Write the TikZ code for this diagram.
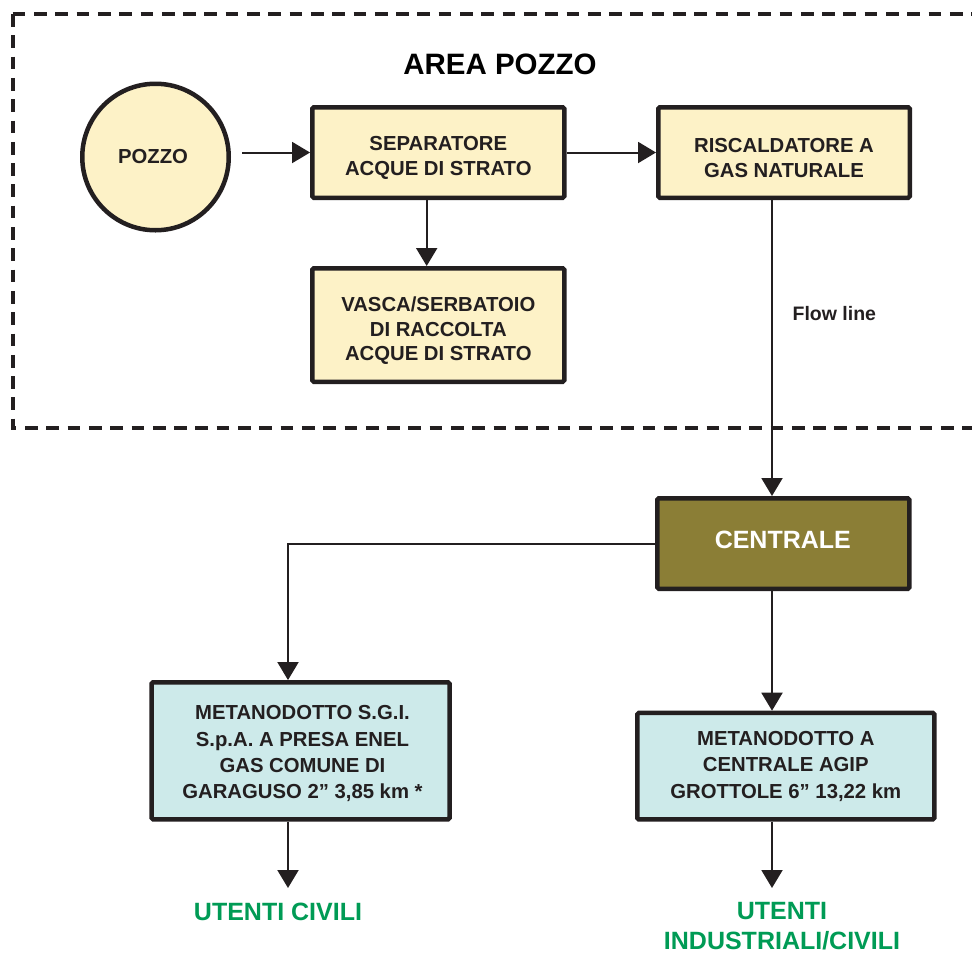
\documentclass[tikz,border=0pt]{standalone}
\usepackage{fontspec}
\setmainfont{Liberation Sans}
\usetikzlibrary{arrows.meta}
\definecolor{cream}{RGB}{253,242,199}
\definecolor{paleblue}{RGB}{205,234,234}
\definecolor{olive}{RGB}{139,126,54}
\definecolor{dark}{RGB}{35,31,32}
\definecolor{leafgreen}{RGB}{0,155,85}
\begin{document}
\begin{tikzpicture}[x=1pt,y=-1pt,
  ink/.style={draw=dark,line width=4.5pt,rounded corners=1.5pt,inner sep=0pt},
  ybox/.style={ink,fill=cream,rectangle},
  bbox/.style={ink,fill=paleblue,rectangle},
  obox/.style={ink,fill=olive,rectangle},
  boxtext/.style={inner sep=0pt,align=center,text=dark,font=\bfseries\fontsize{20.3}{24.5}\selectfont},
  bluetext/.style={boxtext,font=\bfseries\fontsize{20.3}{26.3}\selectfont},
  greentext/.style={inner sep=0pt,align=center,text=leafgreen,font=\bfseries\fontsize{25}{29.5}\selectfont},
  conn/.style={draw=dark,line width=2pt},
  arr/.style={conn,-{Triangle[length=18pt,width=21pt]}},
  frame/.style={draw=dark,line width=4pt,dash pattern=on 12.7pt off 8.6pt}
]
\useasboundingbox (0,0) rectangle (972,954);

% dashed area frame
\draw[frame] (12.7,14) -- (990,14);
\draw[frame] (12.7,14) -- (12.7,427.7) -- (990,427.7);

\node[inner sep=0pt,text=black,font=\bfseries\fontsize{29.5}{34}\selectfont] (title) at (500,64.2) {AREA POZZO};

% nodes
\node[ink,circle,fill=cream,minimum size=146.5pt] (pozzo) at (155.5,157) {};
\node[boxtext] (pozzoT) at (153,157) {POZZO};

\node[ybox,minimum width=252pt,minimum height=90.5pt] (sep) at (438.3,152.5) {};
\node[boxtext] (sepT) at (438.3,157.8) {SEPARATORE\\ACQUE DI STRATO};

\node[ybox,minimum width=251.5pt,minimum height=90.5pt] (risc) at (784,152.5) {};
\node[boxtext] (riscT) at (784,157.8) {RISCALDATORE A\\GAS NATURALE};

\node[ybox,minimum width=252pt,minimum height=113.5pt] (vasca) at (438.3,325) {};
\node[boxtext] (vascaT) at (438.3,330.8) {VASCA/SERBATOIO\\DI RACCOLTA\\ACQUE DI STRATO};

\node[obox,minimum width=252pt,minimum height=90.5pt] (centrale) at (783.3,543.5) {};
\node[inner sep=0pt,text=white,font=\bfseries\fontsize{25}{28}\selectfont] (centraleT) at (782.8,540) {CENTRALE};

\node[bbox,minimum width=298pt,minimum height=137pt] (sgi) at (300.5,750.8) {};
\node[bluetext] (sgiT) at (302.5,753.8) {METANODOTTO S.G.I.\\S.p.A. A PRESA ENEL\\GAS COMUNE DI\\GARAGUSO 2” 3,85 km *};

\node[bbox,minimum width=297pt,minimum height=106.5pt] (agip) at (785.8,766.2) {};
\node[bluetext] (agipT) at (785.8,766.3) {METANODOTTO A\\CENTRALE AGIP\\GROTTOLE 6” 13,22 km};

\node[inner sep=0pt,anchor=base,text=dark,font=\bfseries\fontsize{19.5}{23}\selectfont] (flow) at (834.3,320) {Flow line};

\node[greentext,anchor=base] (uc) at (278,920.5) {UTENTI CIVILI};
\node[greentext,anchor=base] (uic) at (782,949) {UTENTI\\INDUSTRIALI/CIVILI};

% helper coordinates
\coordinate (pstart) at (242,152.5);
\coordinate (fx) at (772,0);
\coordinate (lx) at (288,0);
\coordinate (vx) at (426.7,0);
\coordinate (ucend) at (288,888);
\coordinate (uicend) at (772,888);

% connectors
\draw[arr] (pstart) -- (sep.west);
\draw[arr] (sep.east) -- (risc.west);
\draw[arr] (sep.south -| vx) -- (vasca.north -| vx);
\draw[arr] (risc.south -| fx) -- (centrale.north -| fx);
\draw[arr] (centrale.west) -| (sgi.north -| lx);
\draw[arr] (centrale.south -| fx) -- (agip.north -| fx);
\draw[arr] (sgi.south -| lx) -- (ucend);
\draw[arr] (agip.south -| fx) -- (uicend);
\end{tikzpicture}
\end{document}
